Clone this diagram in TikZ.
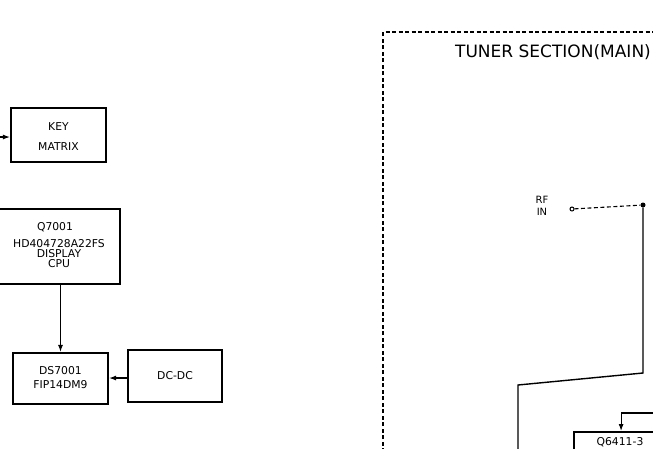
\documentclass[tikz,border=0pt]{standalone}
\usepackage{fontspec}
\setmainfont{DejaVu Sans}
\usetikzlibrary{arrows.meta}
\tikzset{
  box/.style={draw, line width=2.2pt, inner sep=0pt},
  conn/.style={line width=1.1pt},
  arr/.style={conn, -{Latex[length=7pt,width=5pt]}},
  frame/.style={line width=2pt, dash pattern=on 4pt off 2.5pt},
  lbl/.style={font=\fontsize{10.8}{10}\selectfont, align=center, inner sep=0pt}
}
\begin{document}
\begin{tikzpicture}[x=1pt,y=-1pt]
\useasboundingbox (0,0) rectangle (653,448);
% left side
\node[box, minimum width=95pt, minimum height=54pt] (key) at (58.5,135) {};
\node[lbl] (keyt) at (58.5,127) {KEY};
\node[lbl] (matt) at (58.5,147) {MATRIX};
\coordinate (keyin) at (-2,137);
\draw[arr] (keyin) -- (keyin -| key.west);

\node[box, minimum width=130pt, minimum height=75pt] (q7) at (55,246.5) {};
\node[lbl] (q7a) at (55,227) {Q7001};
\node[lbl] (q7b) at (59,254) {HD404728A22FS\\DISPLAY\\CPU};

\node[box, minimum width=95pt, minimum height=51pt] (ds) at (60.5,378.5) {};
\node[lbl] (dsa) at (60.5,371) {DS7001};
\node[lbl] (dsb) at (60.5,385) {FIP14DM9};

\node[box, minimum width=94pt, minimum height=52pt] (dc) at (175,376) {};
\node[lbl] (dct) at (175,376) {DC-DC};

\draw[arr] (q7.south -| ds.north) -- (ds.north);
\draw[arr] (dc.west |- 0,378) -- (ds.east |- 0,378);

% right side
\coordinate (fbl) at (383,452);
\coordinate (ftl) at (383,32);
\coordinate (ftr) at (657,32);
\draw[frame] (fbl) -- (ftl) -- (ftr);
\node[inner sep=0pt, font=\fontsize{17}{17}\selectfont] (title) at (553,52) {TUNER SECTION(MAIN)};

\node[lbl, font=\fontsize{10}{11.5}\selectfont] (rf) at (542,206) {RF\\IN};
\node[draw, circle, line width=1pt, minimum size=4pt, inner sep=0pt] (rfc) at (572,209) {};
\node[fill, circle, minimum size=5pt, inner sep=0pt] (dot) at (643,205) {};
\draw[conn, dash pattern=on 4pt off 2.5pt] (rfc) -- (dot);
\coordinate (c1) at (643,373);
\coordinate (c2) at (518,385);
\coordinate (c3) at (518,452);
\draw[line width=1.4pt] (dot) -- (c1) -- (c2) -- (c3);

\node[box, minimum width=94pt, minimum height=50pt, anchor=north west] (q6) at (573,431) {};
\node[lbl] (q6t) at (620,442) {Q6411-3};
\coordinate (q6src) at (657,413);
\draw[arr] (q6src) -- (q6.north |- q6src) -- (q6.north);
\end{tikzpicture}
\end{document}
